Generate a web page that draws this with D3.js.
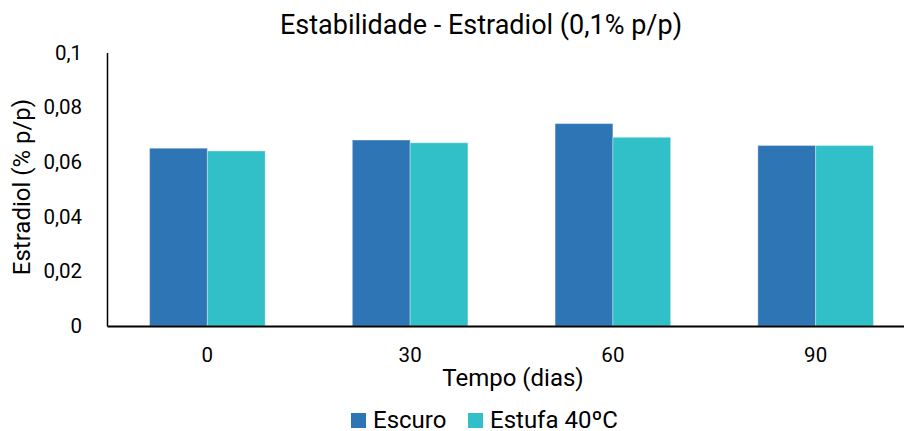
<!DOCTYPE html>
<html>
<head>
<meta charset="utf-8">
<script src="https://cdn.jsdelivr.net/npm/d3@7"></script>
<style>
  html, body { margin: 0; padding: 0; background: #fff; }
  svg { display: block; font-family: Roboto, "Noto Sans", sans-serif; }
</style>
</head>
<body>
<svg id="chart" width="904" height="431"></svg>
<script>
// Stability data: estradiol content (% p/p) over time
const categories = ["0", "30", "60", "90"];
const seriesNames = ["Escuro", "Estufa 40ºC"];
const escuro = [0.065, 0.068, 0.074, 0.066];
const estufa = [0.064, 0.067, 0.069, 0.066];
const yTicks = [0, 0.02, 0.04, 0.06, 0.08, 0.1];
const colors = ["#2E75B6", "#31C0C7"];

const series = [escuro, estufa];
const width = 904, height = 431;
const plot = { left: 107, right: 916, top: 52.5, bottom: 326 };

const svg = d3.select("#chart");

const x = d3.scaleBand()
  .domain(categories)
  .range([plot.left, plot.right])
  .paddingInner(0.43)
  .paddingOuter(0.21);

const xSub = d3.scaleBand()
  .domain(seriesNames)
  .range([0, x.bandwidth()]);

const y = d3.scaleLinear()
  .domain([0, 0.1])
  .range([plot.bottom, plot.top]);

const fmt = v => String(+v.toFixed(2)).replace(".", ",");

// bars
const groups = svg.append("g").selectAll("g")
  .data(categories)
  .join("g")
  .attr("transform", d => `translate(${x(d)},0)`);

groups.selectAll("rect")
  .data((d, i) => seriesNames.map((s, j) => ({ s, v: series[j][i], c: colors[j] })))
  .join("rect")
  .attr("x", d => xSub(d.s))
  .attr("y", d => y(d.v))
  .attr("width", xSub.bandwidth())
  .attr("height", d => y(0) - y(d.v))
  .attr("fill", d => d.c)
  .attr("stroke", "rgba(255,255,255,0.35)")
  .attr("stroke-width", 1);

// y axis
const yAxis = d3.axisLeft(y).tickValues(yTicks).tickFormat(fmt).tickSize(0).tickPadding(25);
const gy = svg.append("g").attr("transform", `translate(${plot.left},0)`).call(yAxis);
gy.select(".domain").attr("stroke", "#000").attr("stroke-width", 1.5);
gy.selectAll("text").attr("font-size", 20.5).attr("fill", "#000").attr("font-family", "Roboto");

// x axis
const xAxis = d3.axisBottom(x).tickSize(0).tickPadding(21);
const gx = svg.append("g").attr("transform", `translate(0,${plot.bottom})`).call(xAxis);
gx.select(".domain").attr("stroke", "#000").attr("stroke-width", 2);
gx.selectAll("text").attr("font-size", 20.5).attr("fill", "#000").attr("font-family", "Roboto");

// title
svg.append("text")
  .attr("x", 481).attr("y", 34)
  .attr("text-anchor", "middle")
  .attr("font-size", 27)
  .text("Estabilidade - Estradiol (0,1% p/p)");

// axis titles
svg.append("text")
  .attr("x", 513).attr("y", 386)
  .attr("text-anchor", "middle")
  .attr("font-size", 24)
  .text("Tempo (dias)");

svg.append("text")
  .attr("transform", `translate(30,187) rotate(-90)`)
  .attr("text-anchor", "middle")
  .attr("font-size", 24)
  .text("Estradiol (% p/p)");

// legend
const legend = svg.append("g");
const legendX = [351, 468];
seriesNames.forEach((name, i) => {
  legend.append("rect")
    .attr("x", legendX[i]).attr("y", 413)
    .attr("width", 15).attr("height", 15)
    .attr("fill", colors[i]);
  legend.append("text")
    .attr("x", legendX[i] + 22).attr("y", 428)
    .attr("font-size", 24)
    .text(name);
});
</script>
</body>
</html>
